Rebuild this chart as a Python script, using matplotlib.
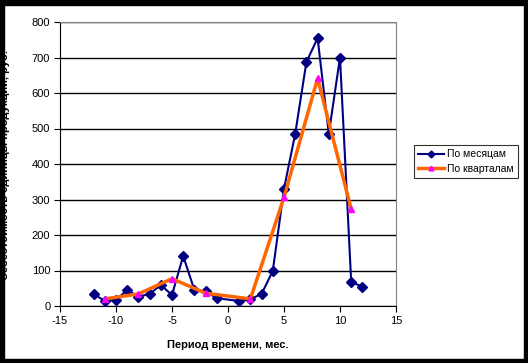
import matplotlib.pyplot as plt
from matplotlib.patches import Rectangle

# monthly data
month_x = [-12, -11, -10, -9, -8, -7, -6, -5, -4, -3, -2, -1, 1, 2, 3, 4, 5, 6, 7, 8, 9, 10, 11, 12]
month_y = [34, 14, 17, 45, 26, 34, 59, 31, 141, 45, 41, 22, 14, 19, 34, 99, 330, 485, 687, 755, 485, 700, 68, 54]

# quarterly data
quarter_x = [-11, -8, -5, -2, 2, 5, 8, 11]
quarter_y = [20, 34, 77, 36, 20, 306, 641, 273]

W, H = 528, 363
fig = plt.figure(figsize=(W / 100, H / 100), dpi=100)
plt.rcParams['font.family'] = ['Liberation Sans', 'DejaVu Sans']
plt.rcParams['axes.unicode_minus'] = False

ax = fig.add_axes([60 / W, 1 - 306 / H, 336 / W, 284 / H])
ax.plot(month_x, month_y, color='#000080', lw=1.5, marker='D', ms=5,
        mfc='#000080', mec='#000080', label='По месяцам', zorder=3)
ax.plot(quarter_x, quarter_y, color='#FF6600', lw=2.5, marker='^', ms=5,
        mfc='#FF00FF', mec='#FF00FF', label='По кварталам', zorder=4)

ax.set_xlim(-15, 15)
ax.set_ylim(0, 800)
ax.set_xticks(range(-15, 16, 5))
ax.set_yticks(range(0, 801, 100))
ax.tick_params(labelsize=8, length=4, direction='out', pad=3)
ax.yaxis.grid(True, color='black', lw=1)
ax.set_axisbelow(True)
for s in ['top', 'right']:
    ax.spines[s].set_color('#808080')
for s in ['left', 'bottom']:
    ax.spines[s].set_color('black')

ax.set_xlabel('Период времени, мес.', fontsize=8, fontweight='bold', labelpad=10)

# y label is cut by the picture edge in the original
fig.text(5 / W, 1 - 165 / H, 'Себестоимость единицы продукции, руб.', rotation=90,
         ha='center', va='center', fontsize=8, fontweight='bold')

leg = fig.legend(loc='upper left', bbox_to_anchor=(414 / W, 1 - 145 / H),
                 fontsize=7.5, frameon=True, fancybox=False, edgecolor='black',
                 handlelength=2.5, borderpad=0.4, labelspacing=0.45, handletextpad=0.3,
                 markerscale=0.7, borderaxespad=0)
leg.get_frame().set_linewidth(0.8)

# black frame around the picture
for x0, y0, w, h in [(0, 0, 4, H), (524, 0, 4, H), (0, 0, W, 5), (0, 359, W, 4)]:
    fig.patches.append(Rectangle((x0 / W, 1 - (y0 + h) / H), w / W, h / H,
                                 transform=fig.transFigure, color='black', zorder=10))

fig.savefig('out.png', dpi=100)
